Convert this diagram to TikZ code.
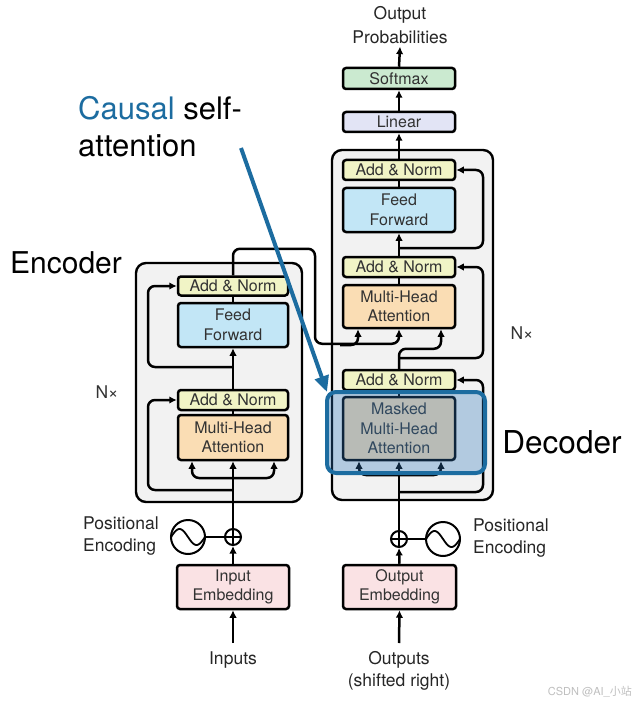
\documentclass[tikz,border=0pt]{standalone}
\usepackage{fontspec}
\setmainfont{TeX Gyre Heros}
\newfontfamily\cjk{Noto Sans CJK SC}
\usetikzlibrary{arrows.meta,calc}
\definecolor{anc}{RGB}{241,244,198}
\definecolor{ffc}{RGB}{194,230,246}
\definecolor{mhac}{RGB}{250,221,180}
\definecolor{linc}{RGB}{226,228,245}
\definecolor{smc}{RGB}{203,234,208}
\definecolor{embc}{RGB}{250,226,228}
\definecolor{contc}{RGB}{242,242,242}
\definecolor{cblue}{RGB}{28,108,160}
\definecolor{hlc}{RGB}{45,118,188}
\definecolor{txtc}{RGB}{50,50,50}
\begin{document}
\begin{tikzpicture}[x=1pt,y=-1pt,
 box/.style={draw, line width=2.5pt, rounded corners=3pt, inner sep=0pt, text=txtc, align=center, font=\fontsize{16}{19.5}\selectfont},
 cont/.style={draw, line width=2.4pt, rounded corners=10pt, fill=contc, inner sep=0pt},
 conn/.style={line width=2.5pt, rounded corners=7pt},
 arr/.style={conn, -{Latex[length=7.5pt,width=7.5pt]}},
 lbl/.style={inner sep=0pt, align=left, text=black!85, font=\fontsize{17.5}{22}\selectfont},
 big/.style={inner sep=0pt, align=left, font=\fontsize{30}{37}\selectfont},
 ring/.style={circle, draw, line width=2pt, inner sep=0pt},
]
\useasboundingbox (0,0) rectangle (634,703);
\fill[white] (0,0) rectangle (634,703);

% containers
\node[cont, minimum width=166pt, minimum height=239pt] (enc) at (219,382.5) {};
\node[cont, minimum width=161pt, minimum height=350pt] (dec) at (412.5,325) {};

% encoder boxes
\node[box, fill=anc, minimum width=110pt, minimum height=19pt] (eAN2) at (233,286) {Add \& Norm};
\node[box, fill=ffc, minimum width=110pt, minimum height=44pt] (eFF) at (233,325) {Feed\\Forward};
\node[box, fill=anc, minimum width=110pt, minimum height=20pt] (eAN1) at (233,400) {Add \& Norm};
\node[box, fill=mhac, minimum width=110pt, minimum height=45pt] (eMHA) at (233,437.5) {Multi-Head\\Attention};
\node[box, fill=embc, minimum width=112pt, minimum height=44pt] (inemb) at (233,587) {Input\\Embedding};

% decoder boxes
\node[box, fill=smc, minimum width=112pt, minimum height=21pt] (sm) at (399,78.5) {Softmax};
\node[box, fill=linc, minimum width=112pt, minimum height=20pt] (lin) at (399,122) {Linear};
\node[box, fill=anc, minimum width=112pt, minimum height=20pt] (dAN3) at (399,170) {Add \& Norm};
\node[box, fill=ffc, minimum width=112pt, minimum height=44pt] (dFF) at (399,210) {Feed\\Forward};
\node[box, fill=anc, minimum width=112pt, minimum height=20pt] (dAN2) at (399,267) {Add \& Norm};
\node[box, fill=mhac, minimum width=112pt, minimum height=43pt] (dMHA) at (399,306.5) {Multi-Head\\Attention};
\node[box, fill=anc, minimum width=112pt, minimum height=20pt] (dAN1) at (399,380) {Add \& Norm};
\node[box, fill=mhac, minimum width=112pt, minimum height=63pt] (dMMHA) at (399,428.5) {Masked\\Multi-Head\\Attention};
\node[box, fill=embc, minimum width=113pt, minimum height=44pt] (outemb) at (399.5,587) {Output\\Embedding};

% positional encodings
\node[ring, minimum size=16pt] (p1) at (233,537) {};
\draw[line width=1.8pt] (p1.north) -- (p1.south) (p1.west) -- (p1.east);
\node[ring, minimum size=34pt] (s1) at (188,537) {};
\draw[line width=1.8pt, shift={(188,537)}] plot[domain=-17:17, samples=50, smooth] (\x, {-8*sin(180*(\x+17)/17)});
\draw[line width=2pt] (s1) -- (p1);

\node[ring, minimum size=16pt] (p2) at (399,539) {};
\draw[line width=1.8pt] (p2.north) -- (p2.south) (p2.west) -- (p2.east);
\node[ring, minimum size=34pt] (s2) at (443,539) {};
\draw[line width=1.8pt, shift={(443,539)}] plot[domain=-17:17, samples=50, smooth] (\x, {-8*sin(180*(\x+17)/17)});
\draw[line width=2pt] (p2) -- (s2);

% labels
\node[lbl, anchor=west] (pe1) at (83,536) {Positional\\Encoding};
\node[lbl, anchor=west] (pe2) at (473,538.5) {Positional\\Encoding};
\node[lbl, align=center] (inp) at (233,660) {Inputs};
\node[lbl, align=center] (outs) at (399,671) {Outputs\\(shifted right)};
\node[lbl, align=center, font=\fontsize{17.5}{23.5}\selectfont] (outp) at (400,25) {Output\\Probabilities};
\node[lbl, text=txtc] (n1) at (107,392) {N×};
\node[lbl, text=txtc] (n2) at (522,333) {N×};

\coordinate (inbot) at (233,643);
\coordinate (outbot) at (399,643);

% encoder connectors
\draw[arr] (inbot) -- (inemb.south);
\draw[arr] (inemb.north) -- (p1.south);
\draw[arr] (p1.north) -- (eMHA.south);
\coordinate (e1) at (233,478);
\draw[arr] (e1) -| ([xshift=-41pt]eMHA.south);
\draw[arr] (e1) -| ([xshift=41pt]eMHA.south);
\coordinate (e0) at (233,490);
\draw[arr] (e0) -- ++(-85,0) |- (eAN1.west);
\draw[conn] (eMHA.north) -- (eAN1.south);
\draw[arr] (eAN1.north) -- (eFF.south);
\coordinate (e2) at (233,367);
\draw[arr] (e2) -- ++(-85,0) |- (eAN2.west);
\draw[conn] (eFF.north) -- (eAN2.south);
\draw[arr] (eAN2.north) -- ++(0,-26.5) -- ++(82,0) -- ++(0,95) -| (dMHA.south);
\coordinate (x1) at (340,345);
\draw[arr] (x1) -| ([xshift=-41pt]dMHA.south);

% decoder connectors
\draw[arr] (outbot) -- (outemb.south);
\draw[arr] (outemb.north) -- (p2.south);
\draw[arr] (p2.north) -- (dMMHA.south);
\coordinate (d1) at (399,475);
\draw[arr] (d1) -| ([xshift=-40pt]dMMHA.south);
\draw[arr] (d1) -| ([xshift=42pt]dMMHA.south);
\coordinate (d0) at (399,492);
\draw[arr] (d0) -- ++(84,0) |- (dAN1.east);
\draw[conn] (dMMHA.north) -- (dAN1.south);
\draw[arr] (dAN1.north) -- ++(0,-20) -| ([xshift=42pt]dMHA.south);
\coordinate (d2) at (399,358);
\draw[arr] (d2) -- ++(84,0) |- (dAN2.east);
\draw[conn] (dMHA.north) -- (dAN2.south);
\draw[arr] (dAN2.north) -- (dFF.south);
\coordinate (d3) at (399,248);
\draw[arr] (d3) -- ++(84,0) |- (dAN3.east);
\draw[conn] (dFF.north) -- (dAN3.south);
\draw[arr] (dAN3.north) -- (lin.south);
\draw[arr] (lin.north) -- (sm.south);
\draw[arr] (sm.north) -- ([yshift=-3pt]outp.south);

% highlight
\node[draw=cblue, line width=4pt, rounded corners=9pt, fill=hlc, fill opacity=0.32, minimum width=158pt, minimum height=81pt, inner sep=0pt] (hl) at (406,432.5) {};
\coordinate (ca) at (241,148);
\draw[cblue, line width=4pt, -{Triangle[length=16pt,width=14pt]}] (ca) -- ([xshift=2pt,yshift=-2pt]hl.north west);

% big labels
\node[big] (encl) at (66,263) {Encoder};
\node[big, font=\fontsize{31.5}{37}\selectfont] (decl) at (562,442) {Decoder};
\node[big, anchor=west, font=\fontsize{31}{37}\selectfont] (causal) at (78,126.5) {\textcolor{cblue}{Causal} self-\\attention};

% watermark
\node[inner sep=0pt, anchor=east, text=black!25, font=\fontsize{11}{13}\selectfont] (wm) at (632,692) {CSDN @AI\_{\cjk 小站}};
\end{tikzpicture}
\end{document}
